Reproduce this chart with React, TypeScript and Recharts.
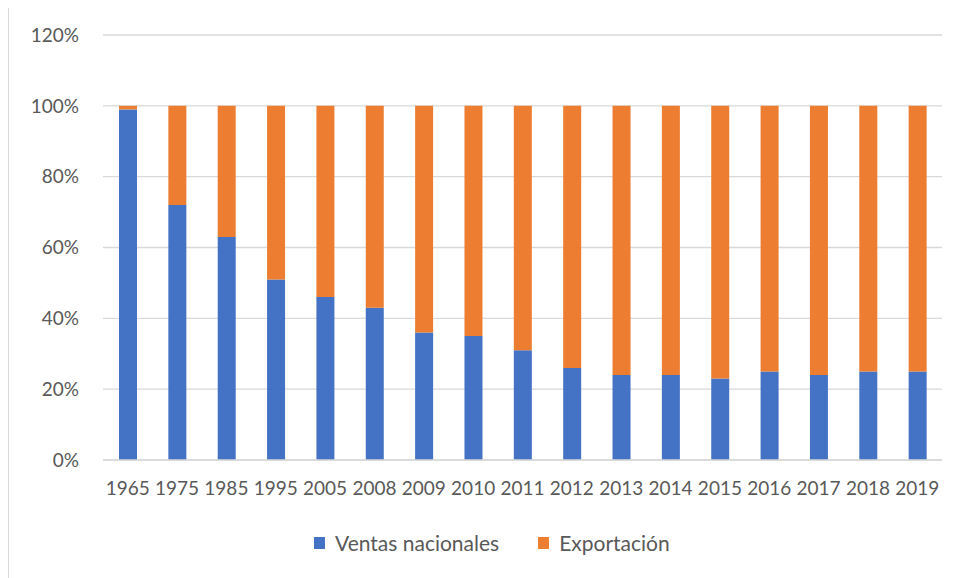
import React from 'react';
import { BarChart, Bar, XAxis, YAxis, CartesianGrid, Legend } from 'recharts';

const years = ['1965', '1975', '1985', '1995', '2005', '2008', '2009', '2010', '2011', '2012', '2013', '2014', '2015', '2016', '2017', '2018', '2019'];
const ventasNacionales = [99, 72, 63, 51, 46, 43, 36, 35, 31, 26, 24, 24, 23, 25, 24, 25, 25];
const exportacion = [1, 28, 37, 49, 54, 57, 64, 65, 69, 74, 76, 76, 77, 75, 76, 75, 75];
const yTicks = [0, 20, 40, 60, 80, 100, 120];

const seriesKeys = ['ventas', 'export'];
const seriesNames = { ventas: 'Ventas nacionales', export: 'Exportación' };

const data = years.map((y, i) => ({ year: y, ventas: ventasNacionales[i], export: exportacion[i] }));

const FONT = 'Lato, "Open Sans", sans-serif';
const TEXT = '#595959';

const renderLegend = (props: any) => {
  const payload = [...(props.payload || [])].sort(
    (a: any, b: any) => seriesKeys.indexOf(a.dataKey) - seriesKeys.indexOf(b.dataKey)
  );
  return (
    <div style={{ display: 'flex', alignItems: 'center', fontFamily: FONT, fontSize: 21, color: TEXT, whiteSpace: 'nowrap' }}>
      {payload.map((p: any, i: number) => (
        <div key={i} style={{ display: 'flex', alignItems: 'center', marginRight: i === 0 ? 39 : 0 }}>
          <div style={{ width: 11, height: 12, background: p.color, marginRight: 10 }} />
          <span>{p.value}</span>
        </div>
      ))}
    </div>
  );
};

export default function App() {
  return (
    <div style={{ width: 950, height: 571, marginTop: -1, borderLeft: '1px solid #d9d9d9', borderTop: '1px solid #d9d9d9', boxSizing: 'border-box' }}>
      <BarChart width={949} height={570} data={data} margin={{ top: 27, right: 16, left: 0, bottom: 88 }} barSize={18}>
        <CartesianGrid vertical={false} stroke="#d9d9d9" strokeWidth={1.3} />
        <XAxis
          dataKey="year"
          axisLine={{ stroke: '#d9d9d9', strokeWidth: 1.3 }}
          tickLine={false}
          tickSize={0}
          tickMargin={22}
          height={30}
          interval={0}
          tick={{ fill: TEXT, fontSize: 19, fontFamily: FONT }}
        />
        <YAxis
          domain={[0, 120]}
          ticks={yTicks}
          tickFormatter={(v: number) => `${v}%`}
          axisLine={false}
          tickLine={false}
          tickSize={0}
          tickMargin={24}
          width={94}
          tick={{ fill: TEXT, fontSize: 19, fontFamily: FONT }}
        />
        <Legend
          verticalAlign="middle"
          align="center"
          layout="horizontal"
          content={renderLegend}
          wrapperStyle={{ position: 'absolute', left: 305, top: 522, width: 'auto' }}
        />
        <Bar dataKey="ventas" name={seriesNames.ventas} stackId="a" fill="#4472C4" isAnimationActive={false} />
        <Bar dataKey="export" name={seriesNames.export} stackId="a" fill="#ED7D31" isAnimationActive={false} />
      </BarChart>
    </div>
  );
}
